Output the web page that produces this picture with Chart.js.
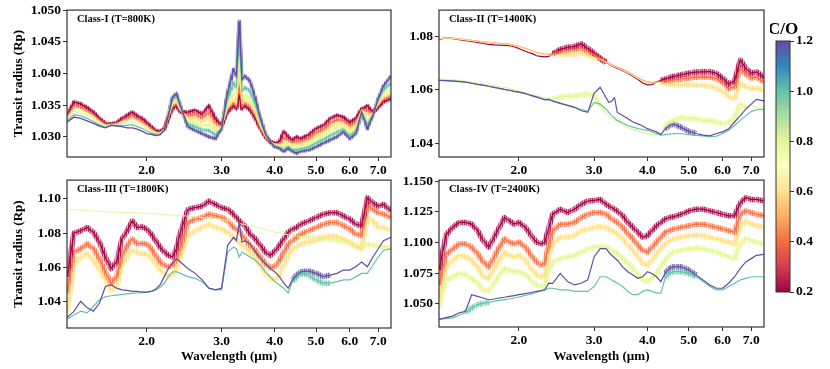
<!DOCTYPE html>
<html>
<head>
<meta charset="utf-8">
<script src="https://cdn.jsdelivr.net/npm/chart.js@4.4.1/dist/chart.umd.min.js"></script>
<style>
  body { margin: 0; background: #fff; width: 830px; height: 369px; position: relative; overflow: hidden; }
  canvas { position: absolute; }
</style>
</head>
<body>
<canvas id="p1" width="400" height="180" style="left:0;top:0"></canvas>
<canvas id="p2" width="370" height="180" style="left:400px;top:0"></canvas>
<canvas id="p3" width="400" height="199" style="left:0;top:170px"></canvas>
<canvas id="p4" width="370" height="199" style="left:400px;top:170px"></canvas>
<canvas id="cb" width="60" height="310" style="left:770px;top:0"></canvas>
<script>
"use strict";

// wavelength grid (micron), shared by all panels
const wavelength = [1.30,1.35,1.40,1.45,1.50,1.55,1.60,1.65,1.70,1.75,1.80,1.85,1.90,1.95,2.00,2.05,2.10,2.15,2.20,2.25,2.30,2.35,2.40,
  2.50,2.60,2.70,2.80,2.90,3.00,3.10,3.20,
  3.25,3.30,3.35,3.40,
  3.50,3.60,3.70,3.80,3.90,4.00,4.10,4.20,4.30,4.40,4.50,4.60,
  4.80,5.00,5.20,5.40,5.60,5.80,6.00,6.20,6.40,6.60,6.80,7.00,7.20,
  7.50];
const xTicks = [2.0, 3.0, 4.0, 5.0, 6.0, 7.0];
const coLevels = [0.2, 0.4, 0.6, 0.8, 1.0, 1.2];
const cbTicks = [0.2, 0.4, 0.6, 0.8, 1.0, 1.2];

// Class-I (T=800K)
const classI_yTicks = [1.030, 1.035, 1.040, 1.045, 1.050];
const classI_co02 = [1.0334,1.0355,1.0352,1.0346,1.0339,1.0329,1.0321,1.0320,1.0322,1.0329,1.0334,1.0339,1.0333,1.0329,1.0323,1.0316,1.0310,1.0308,1.0313,1.0329,1.0344,1.0349,1.0339,
  1.0339,1.0342,1.0336,1.0349,1.0329,1.0318,1.0339,1.0349,
  1.0344,1.0365,1.0344,1.0349,
  1.0342,1.0329,1.0313,1.0300,1.0292,1.0290,1.0292,1.0308,1.0300,1.0295,1.0300,1.0297,
  1.0303,1.0313,1.0318,1.0329,1.0334,1.0331,1.0323,1.0329,1.0344,1.0349,1.0339,1.0346,1.0355,
  1.0360];
const classI_co04 = [1.0332,1.0350,1.0347,1.0342,1.0335,1.0327,1.0320,1.0320,1.0321,1.0326,1.0330,1.0334,1.0329,1.0325,1.0319,1.0314,1.0308,1.0307,1.0312,1.0330,1.0347,1.0351,1.0340,
  1.0334,1.0336,1.0330,1.0339,1.0323,1.0317,1.0342,1.0352,
  1.0347,1.0380,1.0347,1.0352,
  1.0346,1.0332,1.0314,1.0300,1.0292,1.0289,1.0290,1.0298,1.0296,1.0291,1.0294,1.0293,
  1.0298,1.0307,1.0312,1.0322,1.0327,1.0326,1.0318,1.0324,1.0343,1.0342,1.0338,1.0349,1.0358,
  1.0364];
const classI_co06 = [1.0330,1.0345,1.0343,1.0338,1.0332,1.0324,1.0318,1.0319,1.0320,1.0324,1.0326,1.0329,1.0325,1.0321,1.0316,1.0311,1.0307,1.0306,1.0312,1.0331,1.0351,1.0355,1.0342,
  1.0330,1.0329,1.0324,1.0329,1.0316,1.0316,1.0346,1.0358,
  1.0352,1.0400,1.0352,1.0357,
  1.0351,1.0336,1.0316,1.0301,1.0292,1.0288,1.0288,1.0290,1.0292,1.0288,1.0289,1.0289,
  1.0293,1.0301,1.0307,1.0315,1.0320,1.0322,1.0313,1.0319,1.0342,1.0335,1.0337,1.0351,1.0362,
  1.0368];
const classI_co08 = [1.0328,1.0340,1.0338,1.0334,1.0328,1.0322,1.0317,1.0319,1.0319,1.0321,1.0322,1.0324,1.0320,1.0317,1.0312,1.0309,1.0305,1.0305,1.0311,1.0332,1.0354,1.0359,1.0344,
  1.0325,1.0323,1.0317,1.0320,1.0310,1.0315,1.0352,1.0368,
  1.0362,1.0425,1.0360,1.0365,
  1.0360,1.0342,1.0320,1.0302,1.0292,1.0287,1.0286,1.0285,1.0288,1.0284,1.0284,1.0285,
  1.0288,1.0296,1.0301,1.0308,1.0314,1.0317,1.0307,1.0314,1.0341,1.0327,1.0336,1.0354,1.0368,
  1.0375];
const classI_co10 = [1.0326,1.0335,1.0333,1.0329,1.0324,1.0319,1.0315,1.0318,1.0318,1.0318,1.0318,1.0319,1.0316,1.0313,1.0309,1.0306,1.0304,1.0304,1.0311,1.0333,1.0358,1.0363,1.0346,
  1.0320,1.0316,1.0311,1.0310,1.0303,1.0314,1.0360,1.0385,
  1.0378,1.0455,1.0372,1.0378,
  1.0372,1.0350,1.0324,1.0303,1.0292,1.0286,1.0284,1.0280,1.0285,1.0280,1.0279,1.0281,
  1.0284,1.0290,1.0296,1.0302,1.0307,1.0312,1.0302,1.0310,1.0340,1.0320,1.0335,1.0357,1.0374,
  1.0385];
const classI_co12 = [1.0323,1.0331,1.0329,1.0325,1.0321,1.0317,1.0314,1.0318,1.0317,1.0316,1.0314,1.0314,1.0312,1.0309,1.0305,1.0304,1.0302,1.0303,1.0310,1.0334,1.0362,1.0368,1.0349,
  1.0316,1.0310,1.0305,1.0300,1.0297,1.0313,1.0370,1.0406,
  1.0396,1.0482,1.0390,1.0396,
  1.0388,1.0360,1.0329,1.0305,1.0292,1.0284,1.0282,1.0277,1.0282,1.0277,1.0274,1.0277,
  1.0279,1.0284,1.0290,1.0295,1.0300,1.0308,1.0297,1.0305,1.0339,1.0313,1.0334,1.0360,1.0380,
  1.0396];

// Class-II (T=1400K)
const classII_yTicks = [1.04, 1.06, 1.08];
const classII_co02 = [1.0789,1.0795,1.0792,1.0788,1.0785,1.0782,1.0778,1.0774,1.0771,1.0769,1.0768,1.0767,1.0766,1.0762,1.0755,1.0748,1.0741,1.0736,1.0728,1.0726,1.0724,1.0726,1.0735,
  1.0752,1.0760,1.0763,1.0773,1.0755,1.0738,1.0718,1.0703,
  1.0697,1.0690,1.0685,1.0681,
  1.0672,1.0663,1.0651,1.0639,1.0626,1.0619,1.0620,1.0630,1.0636,1.0641,1.0646,1.0651,
  1.0657,1.0663,1.0667,1.0668,1.0669,1.0662,1.0645,1.0622,1.0634,1.0712,1.0681,1.0663,1.0668,
  1.0648];
const classII_co04 = [1.0792,1.0796,1.0794,1.0791,1.0788,1.0786,1.0783,1.0780,1.0778,1.0776,1.0774,1.0773,1.0771,1.0767,1.0763,1.0758,1.0752,1.0746,1.0740,1.0737,1.0734,1.0733,1.0736,
  1.0745,1.0750,1.0752,1.0758,1.0745,1.0733,1.0719,1.0706,
  1.0700,1.0694,1.0689,1.0685,
  1.0676,1.0667,1.0656,1.0645,1.0636,1.0630,1.0628,1.0630,1.0632,1.0634,1.0636,1.0638,
  1.0641,1.0645,1.0648,1.0649,1.0648,1.0643,1.0628,1.0605,1.0612,1.0680,1.0660,1.0645,1.0648,
  1.0630];
const classII_co06 = [1.0791,1.0795,1.0793,1.0790,1.0787,1.0785,1.0782,1.0779,1.0777,1.0775,1.0773,1.0772,1.0770,1.0766,1.0762,1.0757,1.0751,1.0745,1.0739,1.0736,1.0733,1.0731,1.0730,
  1.0734,1.0735,1.0734,1.0738,1.0730,1.0722,1.0714,1.0704,
  1.0698,1.0692,1.0687,1.0683,
  1.0674,1.0665,1.0654,1.0643,1.0634,1.0628,1.0626,1.0627,1.0628,1.0625,1.0622,1.0620,
  1.0619,1.0618,1.0618,1.0617,1.0614,1.0608,1.0595,1.0575,1.0568,1.0625,1.0612,1.0605,1.0607,
  1.0600];
const classII_co08 = [1.0641,1.0640,1.0638,1.0636,1.0633,1.0629,1.0626,1.0623,1.0620,1.0617,1.0613,1.0610,1.0606,1.0601,1.0596,1.0591,1.0586,1.0582,1.0578,1.0574,1.0571,1.0568,1.0566,
  1.0575,1.0578,1.0577,1.0583,1.0584,1.0578,1.0541,1.0512,
  1.0503,1.0495,1.0488,1.0482,
  1.0470,1.0460,1.0452,1.0446,1.0441,1.0437,1.0434,1.0432,1.0432,1.0467,1.0478,1.0486,
  1.0498,1.0492,1.0493,1.0486,1.0486,1.0480,1.0473,1.0478,1.0498,1.0547,1.0535,1.0545,1.0535,
  1.0516];
const classII_co10 = [1.0636,1.0635,1.0634,1.0632,1.0629,1.0625,1.0621,1.0617,1.0614,1.0610,1.0606,1.0602,1.0599,1.0595,1.0592,1.0588,1.0584,1.0579,1.0575,1.0570,1.0565,1.0562,1.0559,
  1.0551,1.0543,1.0535,1.0527,1.0520,1.0553,1.0547,1.0528,
  1.0516,1.0504,1.0495,1.0486,
  1.0476,1.0467,1.0461,1.0455,1.0452,1.0449,1.0443,1.0437,1.0431,1.0433,1.0435,1.0437,
  1.0436,1.0433,1.0430,1.0428,1.0424,1.0427,1.0437,1.0449,1.0467,1.0486,1.0504,1.0519,1.0526,
  1.0528];
const classII_co12 = [1.0636,1.0635,1.0633,1.0631,1.0629,1.0625,1.0621,1.0618,1.0614,1.0610,1.0606,1.0602,1.0599,1.0595,1.0592,1.0588,1.0583,1.0578,1.0573,1.0568,1.0563,1.0566,1.0558,
  1.0550,1.0542,1.0535,1.0522,1.0516,1.0587,1.0610,1.0571,
  1.0553,1.0559,1.0571,1.0516,
  1.0504,1.0492,1.0480,1.0473,1.0465,1.0455,1.0449,1.0443,1.0433,1.0453,1.0467,1.0473,
  1.0460,1.0445,1.0437,1.0431,1.0428,1.0437,1.0443,1.0455,1.0480,1.0504,1.0528,1.0547,1.0565,
  1.0559];

// Class-III (T=1800K)
const classIII_yTicks = [1.04, 1.06, 1.08, 1.10];
const classIII_co02 = [1.0547,1.0800,1.0813,1.0832,1.0804,1.0747,1.0661,1.0594,1.0632,1.0766,1.0813,1.0870,1.0832,1.0836,1.0823,1.0794,1.0756,1.0718,1.0690,1.0670,1.0661,1.0709,1.0804,
  1.0937,1.0947,1.0956,1.0985,1.0966,1.0947,1.0937,1.0909,
  1.0890,1.0870,1.0856,1.0842,
  1.0794,1.0766,1.0728,1.0690,1.0670,1.0695,1.0728,1.0766,1.0804,1.0823,1.0832,1.0851,
  1.0870,1.0890,1.0909,1.0918,1.0918,1.0899,1.0880,1.0851,1.0842,1.1004,1.0975,1.0956,1.0966,
  1.0928];
const classIII_co04 = [1.0451,1.0690,1.0709,1.0737,1.0709,1.0651,1.0575,1.0509,1.0547,1.0670,1.0728,1.0766,1.0737,1.0740,1.0737,1.0709,1.0670,1.0632,1.0613,1.0604,1.0613,1.0651,1.0718,
  1.0861,1.0880,1.0890,1.0909,1.0900,1.0890,1.0870,1.0832,
  1.0822,1.0813,1.0790,1.0766,
  1.0728,1.0699,1.0661,1.0623,1.0600,1.0604,1.0642,1.0690,1.0737,1.0756,1.0775,1.0794,
  1.0813,1.0832,1.0851,1.0861,1.0861,1.0842,1.0823,1.0794,1.0785,1.0966,1.0937,1.0918,1.0909,
  1.0890];
const classIII_co06 = [1.0337,1.0620,1.0661,1.0680,1.0642,1.0585,1.0528,1.0470,1.0490,1.0613,1.0661,1.0699,1.0690,1.0680,1.0680,1.0651,1.0623,1.0585,1.0566,1.0547,1.0556,1.0594,1.0661,
  1.0785,1.0813,1.0832,1.0851,1.0832,1.0823,1.0804,1.0775,
  1.0760,1.0747,1.0732,1.0718,
  1.0690,1.0651,1.0613,1.0566,1.0537,1.0528,1.0556,1.0613,1.0670,1.0709,1.0718,1.0737,
  1.0747,1.0756,1.0775,1.0785,1.0780,1.0766,1.0747,1.0718,1.0709,1.0890,1.0870,1.0832,1.0832,
  1.0813];
const classIII_co08 = [1.0935,1.0934,1.0932,1.0930,1.0928,1.0926,1.0924,1.0922,1.0921,1.0920,1.0919,1.0918,1.0917,1.0916,1.0915,1.0913,1.0911,1.0909,1.0907,1.0905,1.0904,1.0902,1.0901,
  1.0898,1.0894,1.0890,1.0886,1.0883,1.0879,1.0872,1.0864,
  1.0860,1.0856,1.0852,1.0848,
  1.0841,1.0834,1.0827,1.0820,1.0812,1.0805,1.0800,1.0795,1.0790,1.0785,1.0782,1.0780,
  1.0776,1.0772,1.0768,1.0763,1.0758,1.0750,1.0742,1.0730,1.0715,1.0735,1.0730,1.0728,1.0722,
  1.0715];
const classIII_co10 = [1.0300,1.0325,1.0347,1.0337,1.0375,1.0413,1.0430,1.0436,1.0440,1.0444,1.0447,1.0450,1.0452,1.0454,1.0456,1.0460,1.0468,1.0485,1.0510,1.0547,1.0575,1.0575,1.0566,
  1.0547,1.0537,1.0518,1.0480,1.0470,1.0470,1.0690,1.0718,
  1.0709,1.0661,1.0690,1.0680,
  1.0661,1.0642,1.0613,1.0575,1.0547,1.0518,1.0499,1.0480,1.0451,1.0518,1.0547,1.0566,
  1.0556,1.0528,1.0509,1.0509,1.0518,1.0528,1.0528,1.0547,1.0566,1.0566,1.0613,1.0661,1.0699,
  1.0709];
const classIII_co12 = [1.0309,1.0345,1.0404,1.0366,1.0347,1.0394,1.0490,1.0500,1.0480,1.0470,1.0467,1.0461,1.0461,1.0458,1.0457,1.0462,1.0474,1.0499,1.0547,1.0594,1.0627,1.0651,1.0632,
  1.0594,1.0566,1.0528,1.0480,1.0470,1.0480,1.0728,1.0775,
  1.0756,1.0860,1.0747,1.0756,
  1.0737,1.0690,1.0651,1.0623,1.0594,1.0575,1.0547,1.0509,1.0480,1.0528,1.0556,1.0575,
  1.0580,1.0566,1.0547,1.0556,1.0566,1.0585,1.0585,1.0604,1.0632,1.0604,1.0661,1.0709,1.0756,
  1.0775];

// Class-IV (T=2400K)
const classIV_yTicks = [1.050, 1.075, 1.100, 1.125, 1.150];
const classIV_co02 = [1.0774,1.1060,1.1124,1.1164,1.1164,1.1150,1.1097,1.1016,1.0962,1.1043,1.1124,1.1204,1.1177,1.1150,1.1164,1.1137,1.1097,1.1043,1.1003,1.0989,1.1000,1.1120,1.1231,
  1.1272,1.1245,1.1272,1.1312,1.1339,1.1344,1.1352,1.1312,
  1.1298,1.1285,1.1270,1.1258,
  1.1218,1.1164,1.1124,1.1083,1.1043,1.1056,1.1097,1.1137,1.1164,1.1191,1.1204,1.1210,
  1.1231,1.1258,1.1272,1.1272,1.1258,1.1245,1.1231,1.1218,1.1218,1.1325,1.1366,1.1352,1.1352,
  1.1339];
const classIV_co04 = [1.0653,1.0900,1.0949,1.0989,1.0989,1.0962,1.0909,1.0841,1.0801,1.0882,1.0962,1.1030,1.1003,1.0989,1.1003,1.0976,1.0935,1.0882,1.0841,1.0815,1.0830,1.0990,1.1097,
  1.1150,1.1150,1.1164,1.1204,1.1231,1.1245,1.1245,1.1231,
  1.1211,1.1191,1.1178,1.1164,
  1.1124,1.1070,1.1030,1.0976,1.0935,1.0922,1.0962,1.1003,1.1043,1.1083,1.1097,1.1110,
  1.1124,1.1137,1.1150,1.1150,1.1137,1.1124,1.1110,1.1097,1.1083,1.1231,1.1258,1.1245,1.1231,
  1.1218];
const classIV_co06 = [1.0546,1.0800,1.0855,1.0895,1.0882,1.0855,1.0801,1.0720,1.0707,1.0788,1.0855,1.0922,1.0895,1.0882,1.0895,1.0868,1.0828,1.0774,1.0734,1.0720,1.0730,1.0900,1.0989,
  1.1043,1.1043,1.1056,1.1097,1.1110,1.1124,1.1130,1.1124,
  1.1110,1.1097,1.1083,1.1070,
  1.1030,1.0976,1.0935,1.0882,1.0828,1.0815,1.0855,1.0909,1.0949,1.0989,1.1016,1.1030,
  1.1043,1.1056,1.1062,1.1056,1.1043,1.1030,1.1016,1.1003,1.0989,1.1124,1.1177,1.1150,1.1137,
  1.1124];
const classIV_co08 = [1.0465,1.0690,1.0720,1.0747,1.0734,1.0707,1.0667,1.0613,1.0600,1.0667,1.0734,1.0788,1.0774,1.0761,1.0761,1.0747,1.0720,1.0680,1.0653,1.0640,1.0645,1.0790,1.0841,
  1.0868,1.0882,1.0895,1.0922,1.0949,1.0962,1.0965,1.0962,
  1.0948,1.0935,1.0922,1.0909,
  1.0868,1.0828,1.0788,1.0734,1.0694,1.0680,1.0707,1.0747,1.0801,1.0855,1.0895,1.0922,
  1.0935,1.0949,1.0955,1.0949,1.0935,1.0922,1.0903,1.0882,1.0868,1.0989,1.1030,1.1016,1.1003,
  1.0989];
const classIV_co10 = [1.0371,1.0378,1.0384,1.0405,1.0425,1.0465,1.0492,1.0502,1.0511,1.0520,1.0527,1.0533,1.0538,1.0546,1.0554,1.0563,1.0573,1.0582,1.0591,1.0602,1.0613,1.0626,1.0626,
  1.0613,1.0613,1.0600,1.0600,1.0600,1.0640,1.0720,1.0720,
  1.0707,1.0694,1.0680,1.0667,
  1.0640,1.0600,1.0573,1.0573,1.0600,1.0613,1.0600,1.0586,1.0586,1.0707,1.0747,1.0761,
  1.0761,1.0747,1.0720,1.0680,1.0640,1.0613,1.0613,1.0640,1.0667,1.0694,1.0707,1.0720,1.0720,
  1.0720];
const classIV_co12 = [1.0371,1.0385,1.0398,1.0425,1.0438,1.0573,1.0559,1.0546,1.0532,1.0538,1.0546,1.0552,1.0559,1.0566,1.0573,1.0580,1.0586,1.0593,1.0600,1.0606,1.0613,1.0667,1.0665,
  1.0747,1.0680,1.0653,1.0667,1.0694,1.0882,1.0949,1.0949,
  1.0920,1.0895,1.0875,1.0855,
  1.0801,1.0761,1.0734,1.0707,1.0720,1.0761,1.0747,1.0720,1.0680,1.0747,1.0788,1.0801,
  1.0801,1.0774,1.0734,1.0694,1.0653,1.0626,1.0626,1.0667,1.0720,1.0788,1.0841,1.0868,1.0895,
  1.0903];

// matplotlib "Spectral", C/O 0.2 -> first stop, 1.2 -> last stop
const spectral = ["#9e0142","#d53e4f","#f46d43","#fdae61","#fee08b","#ffffbf","#e6f598","#abdda4","#66c2a5","#3288bd","#5e4fa2"];
const FONT = '"Liberation Serif", "Times New Roman", serif';
const ALL = [[1.3, 7.6]];

function rgba(hex, a) {
  const n = parseInt(hex.slice(1), 16);
  return `rgba(${n >> 16},${(n >> 8) & 255},${n & 255},${a})`;
}
const inRanges = (ranges, x) => ranges.some(([a, b]) => x >= a && x < b);

// fine vertical stripe texture, makes the wide stroke read as a noisy band
const stripeAlpha = [0.85, 0.45, 0.7, 0.3, 0.6, 0.5, 0.8, 0.35];
function stripePattern(hex) {
  const c = document.createElement("canvas");
  c.width = stripeAlpha.length;
  c.height = 1;
  const g = c.getContext("2d");
  stripeAlpha.forEach((a, i) => {
    g.fillStyle = rgba(hex, a);
    g.fillRect(i, 0, 1, 1);
  });
  return g.createPattern(c, "repeat");
}

const framePlugin = {
  id: "frame",
  afterDraw(chart, args, opts) {
    const { ctx, chartArea: a } = chart;
    ctx.save();
    ctx.strokeStyle = "#333";
    ctx.lineWidth = 1.2;
    ctx.strokeRect(a.left, a.top, a.right - a.left, a.bottom - a.top);
    ctx.fillStyle = "#000";
    ctx.font = `bold 10.5px ${FONT}`;
    ctx.textBaseline = "middle";
    ctx.fillText(opts.text, a.left + 10, a.top + 9);
    ctx.restore();
  },
};

function makePanel(p) {
  const datasets = [];
  p.series.forEach((vals, i) => {
    const col = spectral[2 * i];
    const pts = wavelength.map((w, k) => ({ x: w, y: vals[k] }));
    const noise = p.noise[i];
    if (noise) {
      const pat = stripePattern(col);
      datasets.push({
        data: pts, pointRadius: 0, borderWidth: p.halo, order: 20 + i, clip: 0,
        borderColor: pat, borderJoinStyle: "round",
        segment: { borderColor: (c) => (inRanges(noise, c.p0.parsed.x) ? pat : "rgba(0,0,0,0)") },
      });
    }
    datasets.push({
      data: pts, pointRadius: 0, borderColor: col, borderWidth: p.widths[i],
      order: 6 - i, clip: 0,
    });
  });

  const tickFont = { family: FONT, size: 13.5, weight: "bold" };
  const titleFont = { family: FONT, size: 13, weight: "bold" };

  new Chart(document.getElementById(p.id), {
    type: "line",
    data: { datasets },
    options: {
      responsive: false,
      animation: false,
      layout: { padding: { top: p.padTop, right: p.padRight, left: 0, bottom: 0 } },
      plugins: { legend: { display: false }, tooltip: { enabled: false }, frame: { text: p.label } },
      scales: {
        x: {
          type: "logarithmic", min: 1.3, max: 7.5, bounds: "data",
          afterBuildTicks: (ax) => { ax.ticks = xTicks.map((v) => ({ value: v })); },
          afterFit: (ax) => { ax.height = p.xAxisH; },
          ticks: { callback: (v) => Number(v).toFixed(1), font: tickFont, color: "#000", padding: 1, maxRotation: 0, autoSkip: false },
          grid: { drawOnChartArea: false, drawTicks: true, tickLength: 4, color: "#333" },
          border: { display: false },
          title: { display: p.xTitle, text: "Wavelength (\u00b5m)", font: titleFont, color: "#000", padding: { top: 0, bottom: 4.5 } },
        },
        y: {
          min: p.ymin, max: p.ymax, bounds: "data",
          afterBuildTicks: (ax) => { ax.ticks = p.yTicks.map((v) => ({ value: v })); },
          afterFit: (ax) => { ax.width = p.yAxisW; },
          ticks: { callback: (v) => Number(v).toFixed(p.digits), font: tickFont, color: "#000", padding: 2 },
          grid: { drawOnChartArea: false, drawTicks: true, tickLength: 4, color: "#333" },
          border: { display: false },
          title: { display: p.yTitle, text: "Transit radius (Rp)", font: titleFont, color: "#000", padding: { top: 11, bottom: 0 } },
        },
      },
    },
    plugins: [framePlugin],
  });
}

makePanel({
  id: "p1", label: "Class-I (T=800K)", yTicks: classI_yTicks, digits: 3, ymin: 1.0268, ymax: 1.0500,
  series: [classI_co02, classI_co04, classI_co06, classI_co08, classI_co10, classI_co12],
  widths: [1.2, 1.2, 1.2, 1.2, 1.2, 1.4], halo: 4,
  noise: [ALL, ALL, [[2.2, 7.6]], [[2.2, 7.6]], [[2.2, 7.6]], [[2.2, 7.6]]],
  yAxisW: 67, padTop: 7, padRight: 9, xAxisH: 23, xTitle: false, yTitle: true,
});
makePanel({
  id: "p2", label: "Class-II (T=1400K)", yTicks: classII_yTicks, digits: 2, ymin: 1.0349, ymax: 1.0899,
  series: [classII_co02, classII_co04, classII_co06, classII_co08, classII_co10, classII_co12],
  widths: [1.2, 1.2, 1.2, 1.2, 1.2, 1.2], halo: 5.5,
  noise: [[[2.4, 3.2], [4.3, 7.6]], [[2.4, 3.2], [4.3, 7.6]], [[2.4, 3.2], [4.3, 7.6]], [[2.4, 3.05], [4.4, 6.8]], null, [[4.4, 5.1]]],
  yAxisW: 39, padTop: 7, padRight: 6, xAxisH: 23, xTitle: false, yTitle: false,
});
makePanel({
  id: "p3", label: "Class-III (T=1800K)", yTicks: classIII_yTicks, digits: 2, ymin: 1.0249, ymax: 1.1107,
  series: [classIII_co02, classIII_co04, classIII_co06, classIII_co08, classIII_co10, classIII_co12],
  widths: [1.2, 1.2, 1.2, 1.0, 1.2, 1.2], halo: 5.5,
  noise: [ALL, ALL, ALL, [[4.4, 7.6]], [[4.4, 5.3]], [[4.4, 5.3]]],
  yAxisW: 67, padTop: 8, padRight: 9, xAxisH: 41, xTitle: true, yTitle: true,
});
makePanel({
  id: "p4", label: "Class-IV (T=2400K)", yTicks: classIV_yTicks, digits: 3, ymin: 1.0309, ymax: 1.1510,
  series: [classIV_co02, classIV_co04, classIV_co06, classIV_co08, classIV_co10, classIV_co12],
  widths: [1.2, 1.2, 1.2, 1.2, 1.2, 1.2], halo: 5.5,
  noise: [ALL, ALL, ALL, ALL, [[1.5, 1.7], [4.4, 5.2]], [[4.4, 5.2]]],
  yAxisW: 39, padTop: 8, padRight: 6, xAxisH: 42, xTitle: true, yTitle: false,
});

// colour bar
const colorbarPlugin = {
  id: "colorbar",
  beforeDatasetsDraw(chart) {
    const { ctx, chartArea: a } = chart;
    const g = ctx.createLinearGradient(0, a.bottom, 0, a.top);
    spectral.forEach((c, i) => g.addColorStop(i / (spectral.length - 1), c));
    ctx.save();
    ctx.fillStyle = g;
    ctx.fillRect(a.left, a.top, a.right - a.left, a.bottom - a.top);
    ctx.strokeStyle = "#333";
    ctx.lineWidth = 1;
    ctx.strokeRect(a.left, a.top, a.right - a.left, a.bottom - a.top);
    ctx.fillStyle = "#000";
    ctx.font = `bold 17px ${FONT}`;
    ctx.textAlign = "center";
    ctx.textBaseline = "middle";
    ctx.fillText("C/O", (a.left + a.right) / 2, 30);
    ctx.restore();
  },
};

new Chart(document.getElementById("cb"), {
  type: "scatter",
  data: { datasets: [{ data: [] }] },
  options: {
    responsive: false,
    animation: false,
    layout: { padding: { left: 6, top: 41, bottom: 18, right: 0 } },
    plugins: { legend: { display: false }, tooltip: { enabled: false } },
    scales: {
      x: { display: false, min: 0, max: 1 },
      y: {
        position: "right", min: coLevels[0], max: coLevels[coLevels.length - 1], bounds: "data",
        afterBuildTicks: (ax) => { ax.ticks = cbTicks.map((v) => ({ value: v })); },
        afterFit: (ax) => { ax.width = 40; },
        ticks: { callback: (v) => Number(v).toFixed(1), font: { family: FONT, size: 13.5, weight: "bold" }, color: "#000", padding: 2 },
        grid: { drawOnChartArea: false, drawTicks: true, tickLength: 4, color: "#333" },
        border: { display: false },
      },
    },
  },
  plugins: [colorbarPlugin],
});
</script>
</body>
</html>
